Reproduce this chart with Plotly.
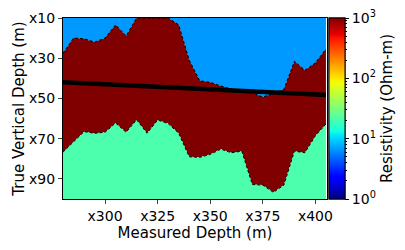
import numpy as np
import plotly.graph_objects as go

# ---- data ----
md = [280, 285, 290, 295, 300, 305, 310, 315, 320, 325, 330, 335, 340,
      345, 350, 355, 360, 365, 370, 375, 380, 385, 390, 395, 400, 405]
upper_tvd = [27.5, 20.0, 20.3, 22.0, 20.0, 13.4, 18.9, 10.0, 10.0, 10.0, 10.0, 13.4, 31.0,
             41.2, 42.0, 43.8, 45.3, 46.2, 47.2, 49.3, 47.5, 45.5, 31.5, 36.0, 32.3, 25.4]
lower_tvd = [76.7, 71.5, 66.5, 67.3, 66.8, 62.2, 66.8, 60.6, 67.3, 60.7, 62.5, 67.3, 79.0,
             79.3, 77.8, 75.2, 77.0, 76.2, 92.8, 93.1, 96.7, 93.1, 76.2, 77.0, 68.5, 62.7]
layer_res = [6.7, 1000.0, 21.0]          # top, middle, bottom (Ohm-m)
well_md = [280, 405]
well_tvd = [41.9, 48.3]
x_ticks = [300, 325, 350, 375, 400]
x_ticktext = ["x300", "x325", "x350", "x375", "x400"]
y_ticks = [10, 30, 50, 70, 90]
y_ticktext = ["x10", "x30", "x50", "x70", "x90"]
cb_ticks = [0, 1, 2, 3]
cb_ticktext = ["10<sup>0</sup>", "10<sup>1</sup>", "10<sup>2</sup>", "10<sup>3</sup>"]
cb_minor = [float(np.log10(m * d)) for d in (1, 10, 100) for m in range(2, 10)]
cmin, cmax = 0, 3
y_top, y_bot = 10, 100
x_min, x_max = 280, 405.5

# ---- matplotlib-like jet colormap ----
seg = {
    "r": [(0, 0), (0.35, 0), (0.66, 1), (0.89, 1), (1, 0.5)],
    "g": [(0, 0), (0.125, 0), (0.375, 1), (0.64, 1), (0.91, 0), (1, 0)],
    "b": [(0, 0.5), (0.11, 1), (0.34, 1), (0.65, 0), (1, 0)],
}


def jet(t):
    out = []
    for ch in "rgb":
        xs, vs = zip(*seg[ch])
        out.append(int(round(255 * float(np.interp(t, xs, vs)))))
    return out


stops = sorted({p for ch in seg.values() for p, _ in ch})
jet_scale = [[s, "rgb(%d,%d,%d)" % tuple(jet(s))] for s in stops]


def res_color(r):
    t = (np.log10(r) - cmin) / (cmax - cmin)
    t = min(max(t, 0), 1)
    return "rgb(%d,%d,%d)" % tuple(jet(t))


font = "DejaVu Sans"
fig = go.Figure()

n = len(md)
# top layer
fig.add_trace(go.Scatter(x=md + md[::-1], y=upper_tvd + [y_top] * n, fill="toself",
                         fillcolor=res_color(layer_res[0]), line=dict(width=0),
                         mode="lines", hoverinfo="skip", showlegend=False))
# middle layer
fig.add_trace(go.Scatter(x=md + md[::-1], y=upper_tvd + lower_tvd[::-1], fill="toself",
                         fillcolor=res_color(layer_res[1]), line=dict(width=0),
                         mode="lines", hoverinfo="skip", showlegend=False))
# bottom layer
fig.add_trace(go.Scatter(x=md + md[::-1], y=lower_tvd + [y_bot] * n, fill="toself",
                         fillcolor=res_color(layer_res[2]), line=dict(width=0),
                         mode="lines", hoverinfo="skip", showlegend=False))
# boundaries
for b in (upper_tvd, lower_tvd):
    fig.add_trace(go.Scatter(x=md, y=b, mode="lines",
                             line=dict(color="black", width=1, dash="3px,2px"),
                             hoverinfo="skip", showlegend=False))
# well
fig.add_trace(go.Scatter(x=well_md, y=well_tvd, mode="lines",
                         line=dict(color="black", width=4.5),
                         hoverinfo="skip", showlegend=False))

cb_common = dict(x=1.008, xanchor="left", xpad=0, ypad=0,
                 y=0.5, yanchor="middle", len=1, lenmode="fraction",
                 thickness=16, outlinecolor="black", outlinewidth=1,
                 ticks="outside", tickcolor="black")
# colorbar (minor ticks layer)
fig.add_trace(go.Scatter(x=[None, None], y=[None, None], mode="markers",
                         marker=dict(color=[cmin, cmax], cmin=cmin, cmax=cmax,
                                     colorscale=jet_scale, showscale=True,
                                     colorbar=dict(**cb_common, tickvals=cb_minor,
                                                   ticktext=[""] * len(cb_minor), ticklen=2)),
                         hoverinfo="skip", showlegend=False))
# colorbar (major ticks + title)
fig.add_trace(go.Scatter(x=[None, None], y=[None, None], mode="markers",
                         marker=dict(color=[cmin, cmax], cmin=cmin, cmax=cmax,
                                     colorscale=jet_scale, showscale=True,
                                     colorbar=dict(
                                         **cb_common,
                                         tickvals=cb_ticks, ticktext=cb_ticktext, ticklen=4,
                                         tickfont=dict(family=font, size=14, color="black"),
                                         title=dict(text="Resistivity (Ohm-m)", side="right",
                                                    font=dict(family=font, size=15, color="black")))),
                         hoverinfo="skip", showlegend=False))

# page body has an 8px default margin: shrink the figure so the plot lands where the reference has it
fig.update_layout(
    width=397, height=242,
    margin=dict(l=55, r=78, t=10, b=51, autoexpand=False),
    paper_bgcolor="white", plot_bgcolor="white",
    font=dict(family=font, color="black"),
    xaxis=dict(range=[x_min, x_max], tickvals=x_ticks, ticktext=x_ticktext,
               showgrid=False, zeroline=False, showline=True, mirror=True,
               linecolor="black", linewidth=1, ticks="outside", ticklen=4,
               tickfont=dict(size=14), automargin=False,
               title=dict(text="Measured Depth (m)", font=dict(size=15), standoff=0)),
    yaxis=dict(range=[y_bot, y_top], tickvals=y_ticks, ticktext=y_ticktext,
               showgrid=False, zeroline=False, showline=True, mirror=True,
               linecolor="black", linewidth=1, ticks="outside", ticklen=4,
               tickfont=dict(size=14), automargin=False,
               title=dict(text="True Vertical Depth (m)", font=dict(size=15), standoff=0)),
)

fig.write_html("out.html")
